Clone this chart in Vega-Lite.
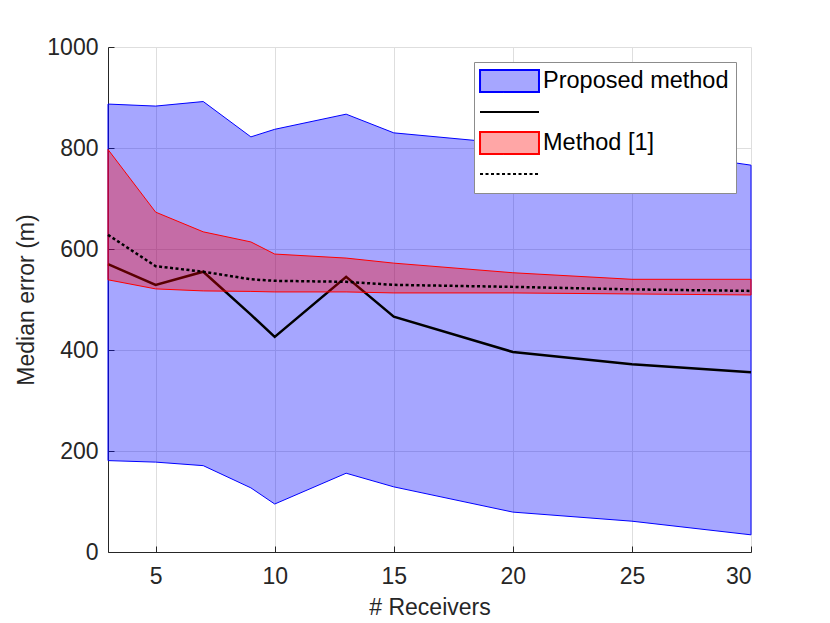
{
  "$schema": "https://vega.github.io/schema/vega-lite/v6.json",
  "description": "Median error vs number of receivers",
  "width": 643,
  "height": 505,
  "autosize": {"type": "none"},
  "padding": {"left": 108, "top": 47, "right": 79, "bottom": 71},
  "background": "white",
  "config": {
    "view": {"stroke": null},
    "font": "Liberation Sans",
    "axis": {
      "domainColor": "#262626",
      "domainWidth": 1,
      "labelColor": "#262626",
      "labelFontSize": 23,
      "titleColor": "#262626",
      "titleFontSize": 23,
      "titleFontWeight": "normal",
      "gridColor": "#dedede",
      "gridWidth": 1,
      "tickColor": "#262626",
      "tickSize": -6,
      "format": "d"
    }
  },
  "datasets": {
    "errors": [
      {"n": 3, "blue_lo": 181, "blue_hi": 887, "solid": 570, "red_lo": 539, "red_hi": 797, "dotted": 628},
      {"n": 5, "blue_lo": 178, "blue_hi": 883, "solid": 529, "red_lo": 521, "red_hi": 673, "dotted": 566},
      {"n": 7, "blue_lo": 171, "blue_hi": 892, "solid": 555, "red_lo": 517, "red_hi": 634, "dotted": 555},
      {"n": 9, "blue_lo": 127, "blue_hi": 822, "solid": 470, "red_lo": 516, "red_hi": 614, "dotted": 540},
      {"n": 10, "blue_lo": 95, "blue_hi": 837, "solid": 426, "red_lo": 515, "red_hi": 590, "dotted": 537},
      {"n": 13, "blue_lo": 156, "blue_hi": 867, "solid": 545, "red_lo": 515, "red_hi": 582, "dotted": 535},
      {"n": 15, "blue_lo": 129, "blue_hi": 830, "solid": 466, "red_lo": 513, "red_hi": 572, "dotted": 529},
      {"n": 20, "blue_lo": 79, "blue_hi": 808, "solid": 396, "red_lo": 513, "red_hi": 553, "dotted": 525},
      {"n": 25, "blue_lo": 61, "blue_hi": 800, "solid": 372, "red_lo": 511, "red_hi": 540, "dotted": 520},
      {"n": 30, "blue_lo": 34, "blue_hi": 766, "solid": 356, "red_lo": 509, "red_hi": 540, "dotted": 517}
    ],
    "series": [
      {"key": "Proposed method"},
      {"key": "solid"},
      {"key": "Method [1]"},
      {"key": "dotted"}
    ]
  },
  "layer": [
    {
      "data": {"name": "errors"},
      "mark": {"type": "area", "fill": "#0000ff", "fillOpacity": 0.35, "stroke": "#0000ff", "strokeWidth": 1},
      "encoding": {
        "x": {
          "field": "n",
          "type": "quantitative",
          "scale": {"domain": [3, 30], "nice": false, "zero": false},
          "axis": {
            "title": "# Receivers",
            "values": [5, 10, 15, 20, 25, 30],
            "labelPadding": 19,
            "titlePadding": 8
          }
        },
        "y": {
          "field": "blue_hi",
          "type": "quantitative",
          "title": "Median error (m)",
          "scale": {"domain": [0, 1000], "nice": false},
          "axis": {"values": [0, 200, 400, 600, 800, 1000], "labelPadding": 16, "titlePadding": 8}
        },
        "y2": {"field": "blue_lo"}
      }
    },
    {
      "data": {"name": "errors"},
      "mark": {"type": "line", "strokeWidth": 2.5, "stroke": "#000000"},
      "encoding": {
        "x": {"field": "n", "type": "quantitative", "title": "# Receivers"},
        "y": {"field": "solid", "type": "quantitative", "title": "Median error (m)"}
      }
    },
    {
      "data": {"name": "errors"},
      "mark": {"type": "area", "fill": "#ff0000", "fillOpacity": 0.35, "stroke": "#ff0000", "strokeWidth": 1},
      "encoding": {
        "x": {"field": "n", "type": "quantitative", "title": "# Receivers"},
        "y": {"field": "red_hi", "type": "quantitative", "title": "Median error (m)"},
        "y2": {"field": "red_lo"}
      }
    },
    {
      "data": {"name": "errors"},
      "mark": {"type": "line", "strokeWidth": 2.5, "strokeDash": [3, 2.5], "stroke": "#000000"},
      "encoding": {
        "x": {"field": "n", "type": "quantitative", "title": "# Receivers"},
        "y": {"field": "dotted", "type": "quantitative", "title": "Median error (m)"}
      }
    },
    {
      "data": {"name": "series"},
      "mark": {"type": "point", "opacity": 0},
      "encoding": {
        "shape": {
          "field": "key",
          "type": "nominal",
          "scale": {
            "domain": ["Proposed method", "solid", "Method [1]", "dotted"],
            "range": ["M-1.18,-1H4.18V1H-1.18Z", "M-1.18,0H4.18", "M-1.18,-1H4.18V1H-1.18Z", "M-1.18,0H4.18"]
          },
          "legend": {
            "title": null,
            "orient": "none",
            "legendX": 366,
            "legendY": 15,
            "padding": 7,
            "rowPadding": 4,
            "labelOffset": 38,
            "labelFontSize": 23.5,
            "labelLimit": 400,
            "labelColor": "#000000",
            "labelExpr": "datum.label == 'solid' || datum.label == 'dotted' ? '' : datum.label",
            "symbolSize": 484,
            "symbolOpacity": 1,
            "symbolStrokeWidth": 2,
            "strokeColor": "#8c8c8c",
            "fillColor": "#ffffff"
          }
        },
        "fill": {
          "field": "key",
          "type": "nominal",
          "scale": {
            "domain": ["Proposed method", "solid", "Method [1]", "dotted"],
            "range": ["#a6a6ff", "transparent", "#ffa6a6", "transparent"]
          }
        },
        "stroke": {
          "field": "key",
          "type": "nominal",
          "scale": {
            "domain": ["Proposed method", "solid", "Method [1]", "dotted"],
            "range": ["#0000ff", "#000000", "#ff0000", "#000000"]
          }
        },
        "strokeDash": {
          "field": "key",
          "type": "nominal",
          "scale": {
            "domain": ["Proposed method", "solid", "Method [1]", "dotted"],
            "range": [[1, 0], [1, 0], [1, 0], [3, 2.5]]
          }
        }
      }
    }
  ]
}
